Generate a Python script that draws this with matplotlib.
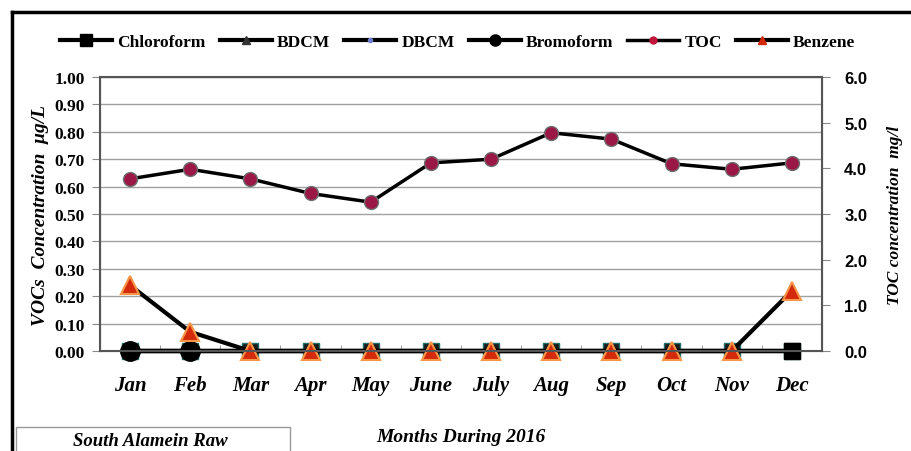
import numpy as np
import matplotlib
matplotlib.use("Agg")
import matplotlib.pyplot as plt
from matplotlib.lines import Line2D
from matplotlib.patches import Rectangle

# data
months = ['Jan', 'Feb', 'Mar', 'Apr', 'May', 'June', 'July', 'Aug', 'Sep', 'Oct', 'Nov', 'Dec']
chloroform = [0, 0, 0, 0, 0, 0, 0, 0, 0, 0, 0, 0]
bdcm = [0, 0, 0, 0, 0, 0, 0, 0, 0, 0, 0, 0]
dbcm = [0, 0, 0, 0, 0, 0, 0, 0, 0, 0, 0, 0]
bromoform = [0, 0, 0, 0, 0, 0, 0, 0, 0, 0, 0, 0]
benzene = [0.24, 0.07, 0, 0, 0, 0, 0, 0, 0, 0, 0, 0.22]
toc = [3.77, 3.98, 3.77, 3.45, 3.26, 4.12, 4.2, 4.78, 4.64, 4.1, 3.98, 4.12]

left_ticks = [0.0, 0.1, 0.2, 0.3, 0.4, 0.5, 0.6, 0.7, 0.8, 0.9, 1.0]
right_ticks = [0, 1, 2, 3, 4, 5, 6]

SERIF = 'Liberation Serif'

fig = plt.figure(figsize=(9.12, 4.52), dpi=100)
ax = fig.add_axes([0.1096, 0.2212, 0.7917, 0.6062])
ax2 = ax.twinx()

x = np.arange(len(months))

# zero series
ax.plot(x, chloroform, color='black', lw=3, marker='s', ms=11, mfc='#1a1a1a', mec='#1f6f6a', zorder=3, clip_on=False)
ax.plot(x, bdcm, color='black', lw=3, marker='^', ms=7, mfc='#222222', mec='#222222', zorder=3, clip_on=False)
ax.plot(x, dbcm, color='black', lw=3, marker='o', ms=4, mfc='#6f7fd0', mec='#6f7fd0', zorder=3, clip_on=False)
ax.plot(x[:2], bromoform[:2], color='black', lw=3, marker='o', ms=14, mfc='black', mec='black', zorder=4, clip_on=False)
ax.plot(x, bromoform, color='black', lw=3, zorder=3, clip_on=False)
ax.plot(x, benzene, color='black', lw=3, marker='^', ms=13, mfc='#d42a0c', mec='#f79646', mew=1.5, zorder=5,
        clip_on=False)
ax.plot(x[-1:], chloroform[-1:], color='black', lw=0, marker='s', ms=12, mfc='black', mec='black', zorder=6,
        clip_on=False)

ax2.plot(x, toc, color='black', lw=2.5, marker='o', ms=10, mfc='#9b1746', mec='#6e6e6e', mew=1, zorder=5)

ax.set_xlim(-0.5, 11.5)
ax.set_ylim(0, 1.0)
ax2.set_ylim(0, 6)

ax.set_yticks(left_ticks)
ax.set_yticklabels(['%.2f' % v for v in left_ticks], fontfamily=SERIF, fontweight='bold', fontsize=12.5)
ax2.set_yticks(right_ticks)
ax2.set_yticklabels(['%.1f' % v for v in right_ticks], fontfamily='Liberation Sans', fontweight='bold', fontsize=12)

ax.set_xticks(x)
ax.set_xticklabels(months, fontfamily=SERIF, fontweight='bold', fontstyle='italic', fontsize=15)
ax.set_xticks(np.arange(-0.5, 12, 1), minor=True)
ax.tick_params(axis='x', which='major', length=0, pad=17)
ax.tick_params(axis='x', which='minor', length=4, direction='in', color='#888888')
ax.tick_params(axis='y', length=6, color='#888888', pad=5)
ax2.tick_params(axis='y', length=6, color='#888888', pad=10)

ax.yaxis.grid(True, color='#a0a0a0', lw=1)
ax.set_axisbelow(True)
for s in ['top', 'right', 'left', 'bottom']:
    ax.spines[s].set_color('#555555')
    ax2.spines[s].set_color('#555555')
    ax2.spines[s].set_linewidth(1.5)

ax.set_ylabel('VOCs  Concentration  \u03bcg/L', fontfamily=SERIF, fontweight='bold', fontstyle='italic',
              fontsize=14, labelpad=4)
ax2.set_ylabel('TOC concentration  mg/l', fontfamily=SERIF, fontweight='bold', fontstyle='italic',
               fontsize=12.5, labelpad=14)
ax.set_xlabel('Months During 2016', fontfamily=SERIF, fontweight='bold', fontstyle='italic',
              fontsize=14, labelpad=24)

handles = [
    Line2D([], [], color='black', lw=3, marker='s', ms=8, mfc='black'),
    Line2D([], [], color='black', lw=3, marker='^', ms=6, mfc='#333333', mec='#333333'),
    Line2D([], [], color='black', lw=3, marker='o', ms=3, mfc='#6f7fd0', mec='#6f7fd0'),
    Line2D([], [], color='black', lw=3, marker='o', ms=8, mfc='black'),
    Line2D([], [], color='black', lw=2.5, marker='o', ms=5, mfc='#c0143c', mec='#c0143c'),
    Line2D([], [], color='black', lw=3, marker='^', ms=6, mfc='#d42a0c', mec='#d42a0c'),
]
labels = ['Chloroform', 'BDCM', 'DBCM', 'Bromoform', 'TOC', 'Benzene']
fig.legend(handles, labels, loc='center', bbox_to_anchor=(0.502, 0.905), ncol=6, frameon=False,
           prop={'family': SERIF, 'weight': 'bold', 'size': 12.5}, handlelength=3.0, columnspacing=0.8,
           handletextpad=0.3)

# outer frame
fig.add_artist(Line2D([12 / 912, 1.0], [1 - 13 / 452, 1 - 13 / 452], transform=fig.transFigure, color='black', lw=2.5))
fig.add_artist(Line2D([12 / 912, 12 / 912], [0, 1 - 13 / 452], transform=fig.transFigure, color='black', lw=2.5))

# site box
fig.add_artist(Rectangle((16 / 912, -0.02), 274 / 912, 0.073, transform=fig.transFigure,
                         fc='white', ec='#999999', lw=1))
fig.text(0.165, 0.024, 'South Alamein Raw', ha='center', va='center', fontfamily=SERIF, fontweight='bold',
         fontstyle='italic', fontsize=13.5)

fig.savefig('out.png', dpi=100)
